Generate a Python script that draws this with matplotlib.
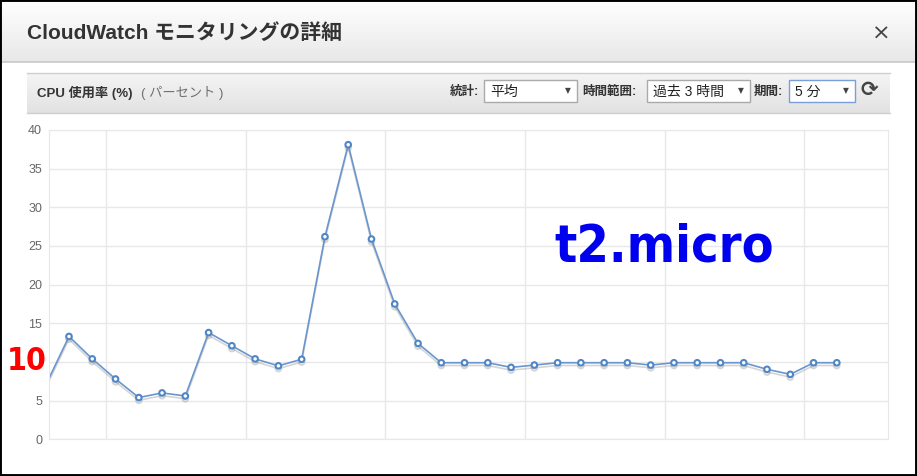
import numpy as np
import matplotlib.pyplot as plt
from matplotlib.patches import Rectangle
from matplotlib import font_manager as fm
import matplotlib.patheffects as pe

# CPU utilisation samples, one every 5 minutes (%)
minutes = np.arange(35) * 5
cpu = [7.0, 13.3, 10.4, 7.8, 5.4, 6.0, 5.6, 13.8, 12.1, 10.4, 9.5, 10.35,
       26.2, 38.1, 25.9, 17.5, 12.4, 9.9, 9.9, 9.9, 9.3, 9.6, 9.9, 9.9,
       9.9, 9.9, 9.6, 9.9, 9.9, 9.9, 9.9, 9.05, 8.4, 9.9, 9.9]
y_ticks = [0, 5, 10, 15, 20, 25, 30, 35, 40]
x_grid = [13, 43, 73, 103, 133, 163]

title = "CloudWatch モニタリングの詳細"
metric = "CPU 使用率 (%)"
unit = "( パーセント )"
controls = [("統計:", "平均"), ("時間範囲:", "過去 3 時間"), ("期間:", "5 分")]

W, H = 917, 476
JP = ["Liberation Sans", "Noto Sans CJK JP", "DejaVu Sans"]


def narrow_font():
    # pick the narrowest bold face that is installed
    try:
        fm.findfont(fm.FontProperties(family="Liberation Sans Narrow"),
                    fallback_to_default=False)
        return dict(family="Liberation Sans Narrow")
    except Exception:
        pass
    f = fm.findfont(fm.FontProperties(family="DejaVu Sans",
                                      stretch="condensed", weight="bold"))
    if "Condensed" in f:
        return dict(family="DejaVu Sans", fontstretch="condensed")
    return dict(family="Liberation Sans")


fig = plt.figure(figsize=(W / 100, H / 100), dpi=100)

# background layer in pixel coordinates for the dialog chrome
bg = fig.add_axes([0, 0, 1, 1], zorder=0)
bg.set_xlim(0, W)
bg.set_ylim(H, 0)
bg.axis("off")

# title bar gradient
grad = np.linspace(1.0, 0.0, 64).reshape(-1, 1, 1)
img = grad * np.array([1.0, 1.0, 1.0]) + (1 - grad) * np.array([0.91, 0.91, 0.91])
bg.imshow(img, extent=[0, W, 62, 0], aspect="auto", zorder=1)
bg.plot([0, W], [62, 62], color="#c8c8c8", lw=1.2, zorder=2)
bg.text(27, 33, title, family=JP, fontsize=15, fontweight="bold",
        color="#333333", va="center", ha="left", zorder=3)
bg.text(881, 34, "×", family="DejaVu Sans", fontsize=16, color="#444444",
        va="center", ha="center", zorder=3)

# metric panel gradient
grad2 = np.linspace(1.0, 0.0, 40).reshape(-1, 1, 1)
img2 = grad2 * np.array([0.96, 0.96, 0.96]) + \
    (1 - grad2) * np.array([0.885, 0.885, 0.885])
bg.imshow(img2, extent=[27, 890, 113, 73], aspect="auto", zorder=1)
bg.plot([27, 890], [73, 73], color="#cfcfcf", lw=1, zorder=2)
bg.plot([27, 890], [113, 113], color="#cfcfcf", lw=1, zorder=2)
bg.text(37, 93, metric, family=JP, fontsize=9.5, fontweight="bold",
        color="#333333", va="center", zorder=3)
bg.text(141, 93, unit, family=JP, fontsize=9.5, color="#707070",
        va="center", zorder=3)

# dropdowns
label_x = [450, 582, 754]
box_x = [(484, 577), (647, 750), (789, 855)]
for (lab, val), lx, (x0, x1) in zip(controls, label_x, box_x):
    bg.text(lx, 92, lab, family=JP, fontsize=9, fontweight="bold",
            color="#333333", va="center", zorder=3)
    edge = "#7a9ed9" if lab == "期間:" else "#aaaaaa"
    bg.add_patch(Rectangle((x0, 80), x1 - x0, 22, facecolor="white",
                           edgecolor=edge, lw=1, zorder=2))
    bg.text(x0 + 6, 92, val, family=JP, fontsize=10, color="#222222",
            va="center", zorder=3)
    bg.text(x1 - 9, 91, "▼", family="DejaVu Sans", fontsize=5.5,
            color="#444444", va="center", ha="center", zorder=3)
bg.text(869, 90, "⟳", family="DejaVu Sans", fontsize=15, fontweight="bold",
        color="#444444", va="center", ha="center", zorder=3)

# chart
ax = fig.add_axes([49 / W, 36.7 / H, (888 - 49) / W, (439.3 - 130) / H],
                  zorder=1)
ax.set_facecolor("white")
ax.plot(minutes, cpu, color="#6a96cf", lw=1.2, marker="o", markersize=4,
        markerfacecolor="white", markeredgecolor="#4f86c6",
        markeredgewidth=1.5,
        path_effects=[pe.SimpleLineShadow(offset=(0, -2),
                                          shadow_color="#888888", alpha=0.35),
                      pe.Normal()])
ax.set_xlim(0.7, 181)
ax.set_ylim(0, 40)
ax.set_yticks(y_ticks)
ax.set_xticks(x_grid)
ax.set_xticklabels([])
ax.tick_params(length=0, labelsize=9, labelcolor="#666666", pad=5)
for lab in ax.get_yticklabels():
    lab.set_family("Liberation Sans")
ax.grid(True, color="#e8e8e8", lw=1)
ax.set_axisbelow(True)
for s in ax.spines.values():
    s.set_color("#e8e8e8")

# annotations, sized to fit the reference boxes
nf = narrow_font()
renderer = fig.canvas.get_renderer()


def fitted_text(s, cx, cy, w_px, h_px, color, **kw):
    t = fig.text(cx / W, 1 - cy / H, s, fontsize=10, fontweight="bold",
                 color=color, va="center", ha="center", zorder=6, **nf, **kw)
    bb = t.get_window_extent(renderer=renderer)
    size = min(10 * w_px / bb.width, 10 * h_px / bb.height)
    t.set_fontsize(size)
    return t


# the red label is pasted over the axis tick "10" in the screenshot
fitted_text("10", 27, 362, 40, 48, "#ff0000",
            bbox=dict(facecolor="white", edgecolor="none", pad=0.5))
fitted_text("t2.micro", 664, 248, 218, 80, "#0000ee")

# outer black border of the screenshot, drawn on top of everything
fig.add_artist(Rectangle((0, 0), 1, 1, transform=fig.transFigure,
                         fill=False, edgecolor="black", lw=2.8, zorder=10))

fig.savefig("out.png", dpi=100)
